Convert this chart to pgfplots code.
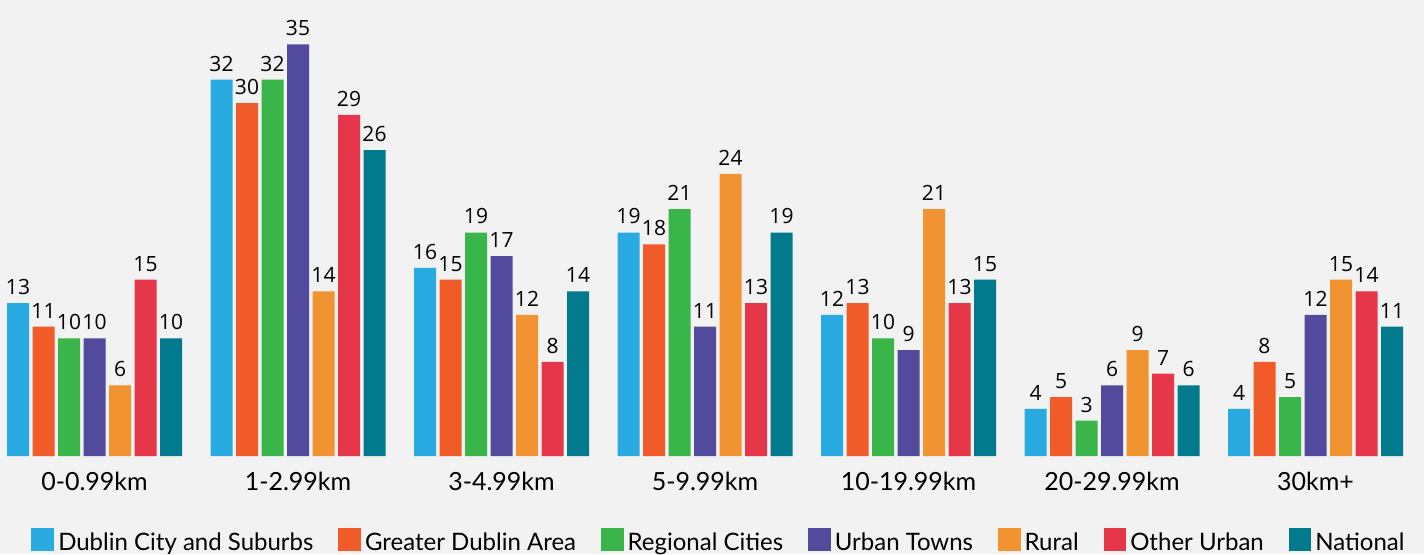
\documentclass[border=0pt]{standalone}
\usepackage{fontspec}
\setmainfont{Lato}
\newfontfamily\valfont{Open Sans}
\usepackage{pgfplots}
\pgfplotsset{compat=1.18}
\definecolor{bg}{HTML}{F2F2F2}
\definecolor{cDub}{HTML}{29ABE2}
\definecolor{cGDA}{HTML}{F15A29}
\definecolor{cReg}{HTML}{39B54A}
\definecolor{cUrb}{HTML}{524A9D}
\definecolor{cRur}{HTML}{F09330}
\definecolor{cOth}{HTML}{E6374A}
\definecolor{cNat}{HTML}{007A8C}
\begin{document}
\begin{tikzpicture}
\fill[bg] (0pt,0pt) rectangle (712pt,277pt);
\useasboundingbox (0pt,0pt) rectangle (712pt,277pt);
\begin{axis}[
  at={(0pt,49pt)}, anchor=south west,
  scale only axis, width=712pt, height=228pt,
  xmin=-0.4644, xmax=6.5332, ymin=0, ymax=38.776,
  ybar=1.75pt, bar width=11pt,
  axis line style={draw=none},
  major tick length=0pt,
  ytick=\empty,
  xtick={0,1,2,3,4,5,6},
  xticklabels={0-0.99km,1-2.99km,3-4.99km,5-9.99km,10-19.99km,20-29.99km,30km+},
  xticklabel style={font=\fontsize{12.5}{14}\selectfont, anchor=base, yshift=-17pt, inner sep=0pt},
  /pgf/number format/assume math mode=true,
  nodes near coords,
  every node near coord/.append style={font=\valfont\fontsize{10.5}{12}\selectfont, anchor=south, inner sep=0pt, yshift=4pt, text=black},
  legend columns=7,
  legend style={draw=none, fill=none, at={(0.5,0)}, anchor=north, yshift=-34pt, xshift=4pt,
    font=\fontsize{12}{14}\selectfont,
    /tikz/every even column/.append style={column sep=10.4pt}},
  legend image code/.code={\draw[#1, draw=none] (0pt,-4pt) rectangle (11.4pt,7.4pt);},
  every axis plot/.append style={draw=none},
]
\addplot[fill=cDub] coordinates {(0,13) (1,32) (2,16) (3,19) (4,12) (5,4) (6,4)};
\addplot[fill=cGDA] coordinates {(0,11) (1,30) (2,15) (3,18) (4,13) (5,5) (6,8)};
\addplot[fill=cReg] coordinates {(0,10) (1,32) (2,19) (3,21) (4,10) (5,3) (6,5)};
\addplot[fill=cUrb] coordinates {(0,10) (1,35) (2,17) (3,11) (4,9) (5,6) (6,12)};
\addplot[fill=cRur] coordinates {(0,6) (1,14) (2,12) (3,24) (4,21) (5,9) (6,15)};
\addplot[fill=cOth] coordinates {(0,15) (1,29) (2,8) (3,13) (4,13) (5,7) (6,14)};
\addplot[fill=cNat] coordinates {(0,10) (1,26) (2,14) (3,19) (4,15) (5,6) (6,11)};
\legend{Dublin City and Suburbs, Greater Dublin Area, Regional Cities, Urban Towns, Rural, Other Urban, National}
\end{axis}
\end{tikzpicture}
\end{document}
